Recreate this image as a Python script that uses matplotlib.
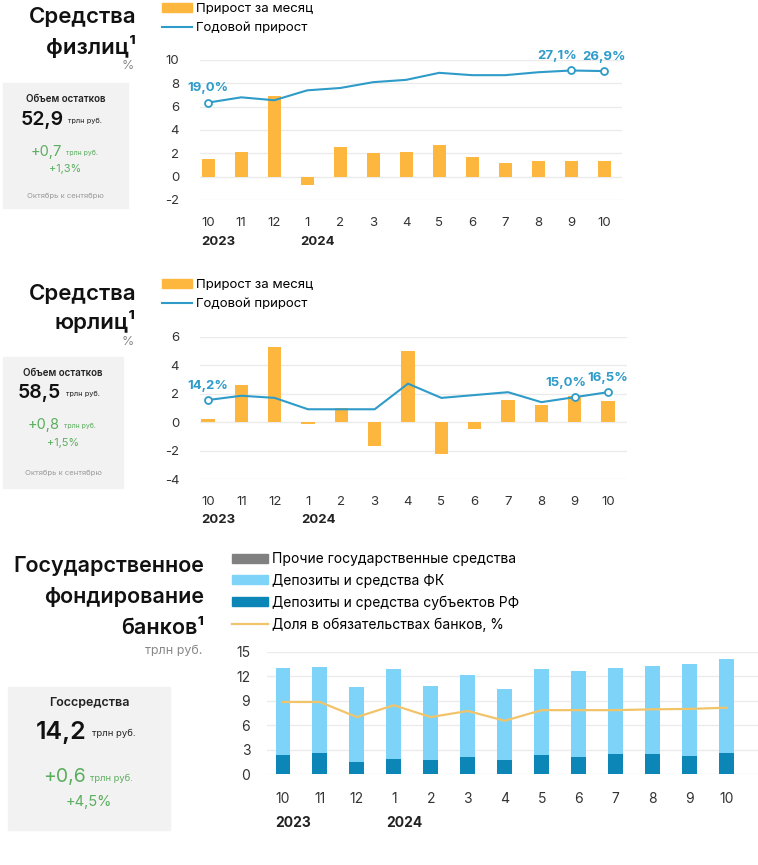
import matplotlib.pyplot as plt
from matplotlib.patches import Patch, Rectangle
from matplotlib.lines import Line2D
from matplotlib.transforms import blended_transform_factory

plt.rcParams['font.family'] = ['Inter', 'DejaVu Sans']

# data
months = ["10", "11", "12", "1", "2", "3", "4", "5", "6", "7", "8", "9", "10"]
years = [(0, "2023"), (3, "2024")]

fiz_month = [1.5, 2.1, 6.9, -0.7, 2.5, 2.0, 2.1, 2.7, 1.7, 1.15, 1.35, 1.35, 1.3]
fiz_year = [6.35, 6.8, 6.55, 7.4, 7.6, 8.1, 8.3, 8.9, 8.7, 8.7, 8.95, 9.1, 9.05]
fiz_labels = {0: "19,0%", 11: "27,1%", 12: "26,9%"}

jur_month = [0.25, 2.6, 5.25, -0.1, 1.0, -1.65, 5.0, -2.25, -0.5, 1.55, 1.2, 1.8, 1.45]
jur_year = [1.55, 1.85, 1.7, 0.9, 0.9, 0.9, 2.7, 1.7, 1.9, 2.1, 1.4, 1.75, 2.1]
jur_labels = {0: "14,2%", 11: "15,0%", 12: "16,5%"}

gov_total = [13.05, 13.15, 10.65, 12.85, 10.85, 12.2, 10.45, 12.85, 12.6, 13.0, 13.3, 13.5, 14.15]
gov_regions = [2.35, 2.55, 1.45, 1.85, 1.8, 2.1, 1.8, 2.35, 2.15, 2.5, 2.5, 2.25, 2.6]
gov_other = [0.0] * 13
gov_share = [8.85, 8.85, 7.0, 8.45, 7.0, 7.75, 6.55, 7.85, 7.85, 7.85, 7.95, 8.0, 8.15]

ORANGE = "#FDB73E"
BLUE = "#2E9BC9"
LIGHT = "#7ED4F8"
DARK = "#0B86B6"
GOLD = "#F2C46A"
GREEN = "#5BAE5E"
GRID = "#EBEBEB"

W, H = 758, 865
fig = plt.figure(figsize=(W / 100, H / 100), dpi=100)


def fx(p):
    return p / W


def fy(p):
    return 1 - p / H


def setup(ax, yticks, fs, pad, month_y, year_y):
    x = list(range(len(months)))
    for s in ax.spines.values():
        s.set_visible(False)
    ax.set_yticks(yticks)
    ax.set_yticklabels([str(t) for t in yticks], fontsize=fs, color="#333333")
    ax.set_xticks(x)
    ax.set_xticklabels(months, fontsize=fs, color="#333333")
    ax.tick_params(axis="y", length=0, pad=pad)
    ax.tick_params(axis="x", length=0, pad=month_y)
    ax.grid(axis="y", color=GRID, lw=1)
    ax.set_axisbelow(True)
    tr = blended_transform_factory(ax.transData, ax.transAxes)
    for i, y in years:
        ax.text(i - 0.2, year_y, y, transform=tr, ha="left", va="center",
                fontsize=fs, fontweight="bold", color="#222222")


def growth_panel(ax, bars, line, labels, shift):
    x = list(range(len(months)))
    ax.bar(x, bars, width=0.4, color=ORANGE, zorder=2)
    ax.plot(x, line, color=BLUE, lw=1.5, zorder=3)
    idx = list(labels.keys())
    ax.plot(idx, [line[i] for i in idx], "o", mfc="white", mec=BLUE, mew=1.3,
            ms=5, zorder=4)
    for i, t in labels.items():
        dx = shift if i == 11 else 0.0
        ax.annotate(t, (i, line[i]), xytext=(dx, 6), textcoords="offset points",
                    ha="center", va="bottom", fontsize=9.5, fontweight="bold",
                    color=BLUE, annotation_clip=False)


def legend(handles, labels, x, y, fs, hl):
    fig.legend(handles, labels, loc="upper left", bbox_to_anchor=(fx(x), fy(y)),
               frameon=False, fontsize=fs, handlelength=hl, handleheight=0.6,
               handletextpad=0.3, labelspacing=0.55, borderpad=0, borderaxespad=0)


def title(lines, right, ys, sub, sub_y, fs=16):
    for t, y in zip(lines, ys):
        fig.text(fx(right), fy(y), t, ha="right", va="center", fontsize=fs,
                 fontweight="semibold", color="#111111")
    fig.text(fx(right - 2), fy(sub_y), sub, ha="right", va="center", fontsize=9,
             color="#888888")


def info_box(x0, y0, x1, y1, head, head_y, big, big_y, big_fs, add, add_y, add_fs,
             pct, pct_y, foot=None, foot_y=None):
    fig.patches.append(Rectangle((fx(x0), fy(y1)), (x1 - x0) / W, (y1 - y0) / H,
                                 transform=fig.transFigure, color="#F2F2F2", zorder=0))
    cx = (x0 + x1) / 2
    fig.text(fx(cx), fy(head_y), head, ha="center", va="center", fontsize=big_fs * 0.5,
             fontweight="semibold", color="#222222")
    fig.text(fx(cx - 2), fy(big_y), big, ha="right", va="center", fontsize=big_fs,
             fontweight="semibold", color="#111111")
    fig.text(fx(cx + 3), fy(big_y + 1), "трлн руб.", ha="left", va="center",
             fontsize=big_fs * 0.38, color="#222222")
    fig.text(fx(cx - 3), fy(add_y), add, ha="right", va="center", fontsize=add_fs,
             color=GREEN)
    fig.text(fx(cx + 1), fy(add_y + 1), "трлн руб.", ha="left", va="center",
             fontsize=add_fs * 0.48, color=GREEN)
    fig.text(fx(cx), fy(pct_y), pct, ha="center", va="center",
             fontsize=add_fs * 0.75, color=GREEN)
    if foot:
        fig.text(fx(cx), fy(foot_y), foot, ha="center", va="center", fontsize=5.5,
                 color="#999999")


# panel 1
ax1 = fig.add_axes([fx(200), fy(200), 422 / W, 140 / H])
growth_panel(ax1, fiz_month, fiz_year, fiz_labels, -10)
ax1.set_xlim(-0.25, 12.54)
ax1.set_ylim(-2, 10)
setup(ax1, [-2, 0, 2, 4, 6, 8, 10], 9.5, 15, 12, -0.3)
legend([Patch(color=ORANGE), Line2D([], [], color=BLUE, lw=1.5)],
       ["Прирост за месяц", "Годовой прирост"], 162, 3, 9.5, 2.3)
title(["Средства", "физлиц¹"], 136, [17, 46], "%", 66)
info_box(3, 83, 128, 208, "Объем остатков", 99, "52,9", 120, 14, "+0,7", 152, 10.5,
         "+1,3%", 169, "Октябрь к сентябрю", 196)

# panel 2
ax2 = fig.add_axes([fx(200), fy(479), 427 / W, 142.3 / H])
growth_panel(ax2, jur_month, jur_year, jur_labels, -6)
ax2.set_xlim(-0.24, 12.57)
ax2.set_ylim(-4, 6)
setup(ax2, [-4, -2, 0, 2, 4, 6], 9.5, 15, 12, -0.29)
legend([Patch(color=ORANGE), Line2D([], [], color=BLUE, lw=1.5)],
       ["Прирост за месяц", "Годовой прирост"], 162, 279, 9.5, 2.3)
title(["Средства", "юрлиц¹"], 136, [294, 322], "%", 342)
info_box(3, 357, 123, 488, "Объем остатков", 373, "58,5", 393, 14, "+0,8", 425, 10.5,
         "+1,5%", 443, "Октябрь к сентябрю", 473)

# panel 3
ax3 = fig.add_axes([fx(267), fy(774.3), (W - 267) / W, 122.6 / H])
x = list(range(len(months)))
fk = [t - r - o for t, r, o in zip(gov_total, gov_regions, gov_other)]
ax3.bar(x, gov_regions, width=0.4, color=DARK, zorder=2)
ax3.bar(x, fk, width=0.4, bottom=gov_regions, color=LIGHT, zorder=2)
ax3.bar(x, gov_other, width=0.4, bottom=[r + f for r, f in zip(gov_regions, fk)],
        color="#808080", zorder=2)
ax3.plot(x, gov_share, color=GOLD, lw=1.6, zorder=3)
ax3.set_xlim(-0.43, 12.85)
ax3.set_ylim(0, 15)
setup(ax3, [0, 3, 6, 9, 12, 15], 10, 12, 13, -0.4)
legend([Patch(color="#808080"), Patch(color=LIGHT), Patch(color=DARK),
        Line2D([], [], color=GOLD, lw=1.6)],
       ["Прочие государственные средства", "Депозиты и средства ФК",
        "Депозиты и средства субъектов РФ", "Доля в обязательствах банков, %"],
       232, 552, 10, 2.6)
title(["Государственное", "фондирование", "банков¹"], 204, [566, 597, 628],
      "трлн руб.", 651, fs=15.5)
info_box(8, 687, 170, 830, "Госсредства", 703, "14,2", 732, 18, "+0,6", 777, 14,
         "+4,5%", 802)

fig.savefig("out.png", dpi=100)
